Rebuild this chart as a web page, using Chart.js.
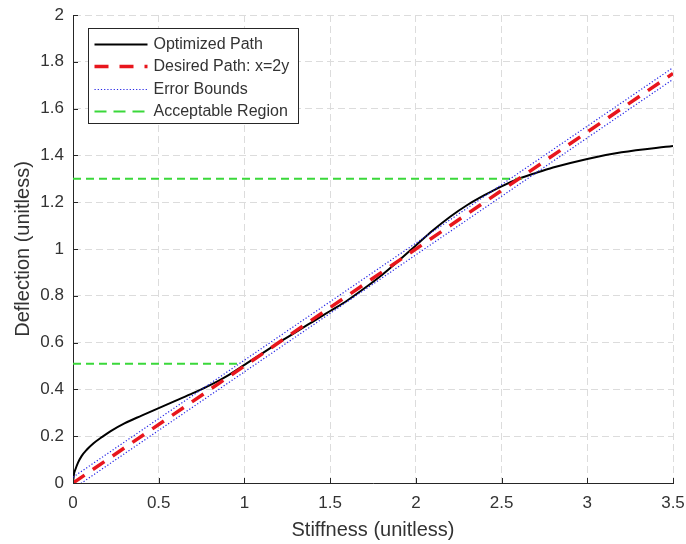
<!DOCTYPE html>
<html>
<head>
<meta charset="utf-8">
<script src="https://cdn.jsdelivr.net/npm/chart.js@4"></script>
<style>
  html, body { margin: 0; padding: 0; background: #fff; }
  #grafico { display: block; }
</style>
</head>
<body>
<canvas id="grafico" width="686" height="544"></canvas>
<script>
// valores
const optX = [0, 0.005, 0.015, 0.03, 0.05, 0.08, 0.12, 0.17, 0.22, 0.3, 0.4, 0.5, 0.6, 0.7, 0.8, 0.9, 1.0,
  1.1, 1.2, 1.3, 1.4, 1.5, 1.6, 1.7, 1.8, 1.9, 2.0, 2.1, 2.2, 2.3, 2.4, 2.5, 2.6, 2.7, 2.8, 3.0, 3.2, 3.5];
const optY = [0, 0.035, 0.06, 0.088, 0.115, 0.142, 0.17, 0.197, 0.222, 0.255, 0.288, 0.32, 0.352, 0.384, 0.418, 0.458, 0.505,
  0.552, 0.6, 0.645, 0.69, 0.735, 0.78, 0.832, 0.888, 0.95, 1.015, 1.08, 1.138, 1.188, 1.23, 1.268, 1.3, 1.325, 1.348, 1.385, 1.413, 1.44];

const desiredX = [0, 3.5];
const desiredY = [0, 1.75];

const boundX = [0, 3.5];
const upperBoundY = [0.025, 1.775];
const lowerBoundY = [-0.025, 1.725];

const accLowX = [0, 0.96];
const accLowY = [0.51, 0.51];
const accHighX = [0, 2.62];
const accHighY = [1.3, 1.3];

const xTickValues = [0, 0.5, 1, 1.5, 2, 2.5, 3, 3.5];
const yTickValues = [0, 0.2, 0.4, 0.6, 0.8, 1, 1.2, 1.4, 1.6, 1.8, 2];

const fonte = "'Liberation Sans', Arial, sans-serif";
const corEixo = "#262626";
const corTexto = "#333333";

function pontos(xs, ys) {
  return xs.map((x, i) => ({ x: x, y: ys[i] }));
}

function rotulo(v) {
  return String(Math.round(v * 10) / 10);
}

// ticks para dentro e legenda dentro da area do grafico (estilo MATLAB)
const extras = {
  id: "extras",
  afterDatasetsDraw(chart) {
    const { ctx, chartArea, scales } = chart;
    ctx.save();

    ctx.strokeStyle = corEixo;
    ctx.lineWidth = 1;
    ctx.setLineDash([]);
    ctx.beginPath();
    xTickValues.forEach(v => {
      const px = Math.round(scales.x.getPixelForValue(v)) + 0.5;
      ctx.moveTo(px, chartArea.bottom);
      ctx.lineTo(px, chartArea.bottom - 5);
    });
    yTickValues.forEach(v => {
      const py = Math.round(scales.y.getPixelForValue(v)) + 0.5;
      ctx.moveTo(chartArea.left, py);
      ctx.lineTo(chartArea.left + 5, py);
    });
    ctx.stroke();

    const itens = chart.data.datasets.filter(d => d.naLegenda);
    const bx = Math.round(chartArea.left) + 15.5;
    const by = Math.round(chartArea.top) + 13.5;
    const bw = 210;
    const bh = 95;
    ctx.fillStyle = "#fff";
    ctx.fillRect(bx, by, bw, bh);
    ctx.strokeStyle = corEixo;
    ctx.strokeRect(bx, by, bw, bh);

    ctx.font = "16px " + fonte;
    ctx.textBaseline = "middle";
    ctx.textAlign = "left";
    itens.forEach((d, i) => {
      const y = Math.round(by + 15 + i * 22.5) + 0.5;
      ctx.strokeStyle = d.borderColor;
      ctx.lineWidth = d.borderWidth;
      ctx.setLineDash(d.legendaDash || d.borderDash || []);
      ctx.beginPath();
      ctx.moveTo(bx + 6, y);
      ctx.lineTo(bx + 59, y);
      ctx.stroke();
      ctx.fillStyle = corTexto;
      ctx.fillText(d.label, bx + 65, y);
    });
    ctx.restore();
  }
};

new Chart(document.getElementById("grafico"), {
  type: "scatter",
  data: {
    datasets: [
      {
        label: "Optimized Path",
        data: pontos(optX, optY),
        borderColor: "#000000",
        borderWidth: 2,
        cubicInterpolationMode: "monotone",
        order: 5,
        naLegenda: true
      },
      {
        label: "Desired Path: x=2y",
        data: pontos(desiredX, desiredY),
        borderColor: "#e8161d",
        borderWidth: 3.5,
        borderDash: [14, 10],
        legendaDash: [14, 11],
        order: 3,
        naLegenda: true
      },
      {
        label: "Error Bounds",
        data: pontos(boundX, upperBoundY),
        borderColor: "#2424e6",
        borderWidth: 1.2,
        borderDash: [1.2, 2],
        order: 2,
        naLegenda: true
      },
      {
        label: "Error Bounds (lower)",
        data: pontos(boundX, lowerBoundY),
        borderColor: "#2424e6",
        borderWidth: 1.2,
        borderDash: [1.2, 2],
        order: 2,
        naLegenda: false
      },
      {
        label: "Acceptable Region",
        data: pontos(accHighX, accHighY),
        borderColor: "#3ad83a",
        borderWidth: 2,
        borderDash: [8, 5],
        legendaDash: [12, 7],
        order: 4,
        naLegenda: true
      },
      {
        label: "Acceptable Region (lower)",
        data: pontos(accLowX, accLowY),
        borderColor: "#3ad83a",
        borderWidth: 2,
        borderDash: [8, 5],
        order: 4,
        naLegenda: false
      }
    ]
  },
  options: {
    responsive: false,
    animation: false,
    showLine: true,
    elements: { point: { radius: 0, hoverRadius: 0 } },
    layout: { padding: { top: 15, right: 13, left: 0, bottom: 0 } },
    plugins: { legend: { display: false }, tooltip: { enabled: false } },
    events: [],
    scales: {
      x: {
        type: "linear",
        min: 0,
        max: 3.5,
        afterBuildTicks: s => { s.ticks = xTickValues.map(v => ({ value: v })); },
        afterFit: s => { s.height = 61; s.paddingLeft = 0; s.paddingRight = 0; },
        grid: { color: "#dcdcdc", lineWidth: 1, drawTicks: false },
        border: { display: true, color: corEixo, width: 1, dash: [7, 4] },
        ticks: { color: corTexto, padding: 10, font: { family: fonte, size: 17 }, callback: rotulo },
        title: {
          display: true,
          text: "Stiffness (unitless)",
          color: corTexto,
          font: { family: fonte, size: 20 },
          padding: { top: 0, bottom: 2 }
        }
      },
      y: {
        type: "linear",
        min: 0,
        max: 2,
        afterBuildTicks: s => { s.ticks = yTickValues.map(v => ({ value: v })); },
        afterFit: s => { s.width = 73; s.paddingTop = 0; s.paddingBottom = 0; },
        grid: { color: "#dcdcdc", lineWidth: 1, drawTicks: false },
        border: { display: true, color: corEixo, width: 1, dash: [7, 4] },
        ticks: { color: corTexto, padding: 9, font: { family: fonte, size: 17 }, callback: rotulo },
        title: {
          display: true,
          text: "Deflection (unitless)",
          color: corTexto,
          font: { family: fonte, size: 20 },
          padding: { top: 11, bottom: 0 }
        }
      }
    }
  },
  plugins: [extras]
});
</script>
</body>
</html>
